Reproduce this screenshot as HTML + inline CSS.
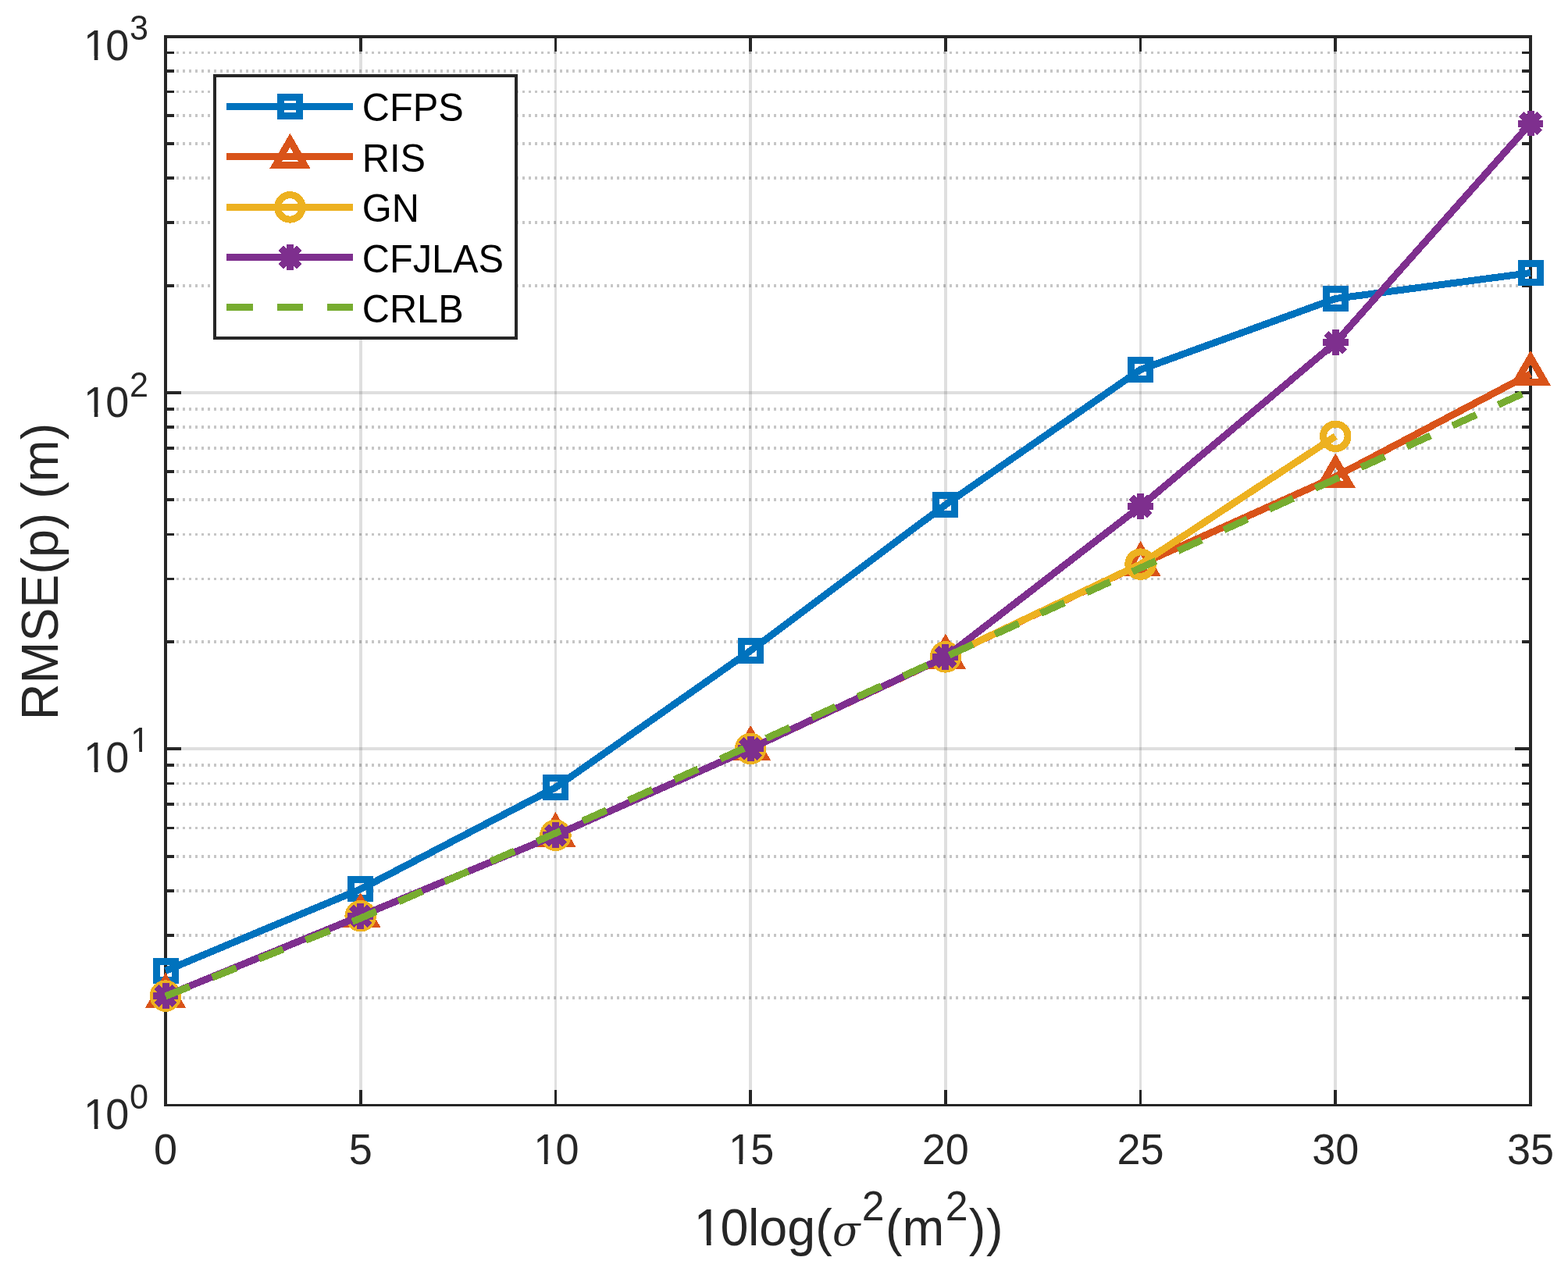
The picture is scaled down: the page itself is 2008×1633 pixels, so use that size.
<!DOCTYPE html>
<html lang="en"><head><meta charset="utf-8"><title>RMSE(p) versus noise level</title>
<style>html,body{margin:0;padding:0;background:#fff}body{width:2008px;height:1633px;overflow:hidden}svg{display:block}text{font-family:"Liberation Sans",Arial,Helvetica,sans-serif;fill:#262626}.leg text{fill:#000}.sig{font-family:"DejaVu Serif","Liberation Serif",serif;font-style:italic}</style>
</head><body>
<svg width="2008" height="1633" viewBox="0 0 2008 1633">
<rect x="0" y="0" width="2008" height="1633" fill="#fff"/>
<defs><clipPath id="c1t" clipPathUnits="userSpaceOnUse"><rect x="-3.00" y="-64.80" width="33.63" height="59.47"/><rect x="15.41" y="-5.43" width="4.67" height="6.43"/><rect x="30.63" y="-108.00" width="617.37" height="162.00"/></clipPath><clipPath id="c1s" clipPathUnits="userSpaceOnUse"><rect x="-3.00" y="-64.80" width="33.63" height="59.47"/><rect x="15.41" y="-5.43" width="4.67" height="6.43"/><rect x="30.63" y="-108.00" width="29.52" height="162.00"/><rect x="60.15" y="-108.00" width="43.70" height="78.58"/><rect x="72.99" y="-29.52" width="3.72" height="5.43"/></clipPath><clipPath id="c1l" clipPathUnits="userSpaceOnUse"><rect x="-3.00" y="-77.52" width="39.53" height="71.39"/><rect x="18.42" y="-6.23" width="5.61" height="7.23"/><rect x="36.53" y="-129.20" width="738.67" height="193.80"/></clipPath></defs>
<g id="grid" shape-rendering="crispEdges">
<rect x="460" y="49" width="4" height="1365" fill="#262626" fill-opacity="0.15"/>
<rect x="710" y="49" width="3" height="1365" fill="#262626" fill-opacity="0.15"/>
<rect x="959" y="49" width="4" height="1365" fill="#262626" fill-opacity="0.15"/>
<rect x="1209" y="49" width="4" height="1365" fill="#262626" fill-opacity="0.15"/>
<rect x="1459" y="49" width="3" height="1365" fill="#262626" fill-opacity="0.15"/>
<rect x="1708" y="49" width="4" height="1365" fill="#262626" fill-opacity="0.15"/>
<rect x="214" y="957" width="1744" height="4" fill="#262626" fill-opacity="0.15"/>
<rect x="214" y="501" width="1744" height="4" fill="#262626" fill-opacity="0.15"/>
<line x1="226" y1="1278.0" x2="1949" y2="1278.0" stroke="#1a1a1a" stroke-opacity="0.25" stroke-width="4" stroke-dasharray="3 5.0520"/>
<line x1="226" y1="1198.0" x2="1949" y2="1198.0" stroke="#1a1a1a" stroke-opacity="0.25" stroke-width="4" stroke-dasharray="3 5.0520"/>
<line x1="226" y1="1141.0" x2="1949" y2="1141.0" stroke="#1a1a1a" stroke-opacity="0.25" stroke-width="4" stroke-dasharray="3 5.0520"/>
<line x1="226" y1="1097.0" x2="1949" y2="1097.0" stroke="#1a1a1a" stroke-opacity="0.25" stroke-width="4" stroke-dasharray="3 5.0520"/>
<line x1="226" y1="1060.5" x2="1949" y2="1060.5" stroke="#1a1a1a" stroke-opacity="0.25" stroke-width="3" stroke-dasharray="3 5.0520"/>
<line x1="226" y1="1030.0" x2="1949" y2="1030.0" stroke="#1a1a1a" stroke-opacity="0.25" stroke-width="4" stroke-dasharray="3 5.0520"/>
<line x1="226" y1="1003.5" x2="1949" y2="1003.5" stroke="#1a1a1a" stroke-opacity="0.25" stroke-width="3" stroke-dasharray="3 5.0520"/>
<line x1="226" y1="980.0" x2="1949" y2="980.0" stroke="#1a1a1a" stroke-opacity="0.25" stroke-width="4" stroke-dasharray="3 5.0520"/>
<line x1="226" y1="822.0" x2="1949" y2="822.0" stroke="#1a1a1a" stroke-opacity="0.25" stroke-width="4" stroke-dasharray="3 5.0520"/>
<line x1="226" y1="741.5" x2="1949" y2="741.5" stroke="#1a1a1a" stroke-opacity="0.25" stroke-width="3" stroke-dasharray="3 5.0520"/>
<line x1="226" y1="684.5" x2="1949" y2="684.5" stroke="#1a1a1a" stroke-opacity="0.25" stroke-width="3" stroke-dasharray="3 5.0520"/>
<line x1="226" y1="640.0" x2="1949" y2="640.0" stroke="#1a1a1a" stroke-opacity="0.25" stroke-width="4" stroke-dasharray="3 5.0520"/>
<line x1="226" y1="604.0" x2="1949" y2="604.0" stroke="#1a1a1a" stroke-opacity="0.25" stroke-width="4" stroke-dasharray="3 5.0520"/>
<line x1="226" y1="574.0" x2="1949" y2="574.0" stroke="#1a1a1a" stroke-opacity="0.25" stroke-width="4" stroke-dasharray="3 5.0520"/>
<line x1="226" y1="547.0" x2="1949" y2="547.0" stroke="#1a1a1a" stroke-opacity="0.25" stroke-width="4" stroke-dasharray="3 5.0520"/>
<line x1="226" y1="524.0" x2="1949" y2="524.0" stroke="#1a1a1a" stroke-opacity="0.25" stroke-width="4" stroke-dasharray="3 5.0520"/>
<line x1="226" y1="366.0" x2="1949" y2="366.0" stroke="#1a1a1a" stroke-opacity="0.25" stroke-width="4" stroke-dasharray="3 5.0520"/>
<line x1="226" y1="285.0" x2="1949" y2="285.0" stroke="#1a1a1a" stroke-opacity="0.25" stroke-width="4" stroke-dasharray="3 5.0520"/>
<line x1="226" y1="228.0" x2="1949" y2="228.0" stroke="#1a1a1a" stroke-opacity="0.25" stroke-width="4" stroke-dasharray="3 5.0520"/>
<line x1="226" y1="184.0" x2="1949" y2="184.0" stroke="#1a1a1a" stroke-opacity="0.25" stroke-width="4" stroke-dasharray="3 5.0520"/>
<line x1="226" y1="148.0" x2="1949" y2="148.0" stroke="#1a1a1a" stroke-opacity="0.25" stroke-width="4" stroke-dasharray="3 5.0520"/>
<line x1="226" y1="117.5" x2="1949" y2="117.5" stroke="#1a1a1a" stroke-opacity="0.25" stroke-width="3" stroke-dasharray="3 5.0520"/>
<line x1="226" y1="91.0" x2="1949" y2="91.0" stroke="#1a1a1a" stroke-opacity="0.25" stroke-width="4" stroke-dasharray="3 5.0520"/>
<line x1="226" y1="67.5" x2="1949" y2="67.5" stroke="#1a1a1a" stroke-opacity="0.25" stroke-width="3" stroke-dasharray="3 5.0520"/>
</g>
<g id="axes" fill="#262626" shape-rendering="crispEdges">
<rect x="210" y="45" width="4" height="1372"/>
<rect x="1958" y="45" width="4" height="1372"/>
<rect x="210" y="45" width="1752" height="4"/>
<rect x="210" y="1414" width="1752" height="3"/>
<rect x="460" y="45" width="4" height="21"/>
<rect x="460" y="1396" width="4" height="21"/>
<rect x="710" y="45" width="3" height="21"/>
<rect x="710" y="1396" width="3" height="21"/>
<rect x="959" y="45" width="4" height="21"/>
<rect x="959" y="1396" width="4" height="21"/>
<rect x="1209" y="45" width="4" height="21"/>
<rect x="1209" y="1396" width="4" height="21"/>
<rect x="1459" y="45" width="3" height="21"/>
<rect x="1459" y="1396" width="3" height="21"/>
<rect x="1708" y="45" width="4" height="21"/>
<rect x="1708" y="1396" width="4" height="21"/>
<rect x="210" y="957" width="22" height="4"/>
<rect x="1940" y="957" width="22" height="4"/>
<rect x="210" y="501" width="22" height="4"/>
<rect x="1940" y="501" width="22" height="4"/>
<rect x="210" y="1276" width="13" height="4"/>
<rect x="1949" y="1276" width="13" height="4"/>
<rect x="210" y="1196" width="13" height="4"/>
<rect x="1949" y="1196" width="13" height="4"/>
<rect x="210" y="1139" width="13" height="4"/>
<rect x="1949" y="1139" width="13" height="4"/>
<rect x="210" y="1095" width="13" height="4"/>
<rect x="1949" y="1095" width="13" height="4"/>
<rect x="210" y="1059" width="13" height="3"/>
<rect x="1949" y="1059" width="13" height="3"/>
<rect x="210" y="1028" width="13" height="4"/>
<rect x="1949" y="1028" width="13" height="4"/>
<rect x="210" y="1002" width="13" height="3"/>
<rect x="1949" y="1002" width="13" height="3"/>
<rect x="210" y="978" width="13" height="4"/>
<rect x="1949" y="978" width="13" height="4"/>
<rect x="210" y="820" width="13" height="4"/>
<rect x="1949" y="820" width="13" height="4"/>
<rect x="210" y="740" width="13" height="3"/>
<rect x="1949" y="740" width="13" height="3"/>
<rect x="210" y="683" width="13" height="3"/>
<rect x="1949" y="683" width="13" height="3"/>
<rect x="210" y="638" width="13" height="4"/>
<rect x="1949" y="638" width="13" height="4"/>
<rect x="210" y="602" width="13" height="4"/>
<rect x="1949" y="602" width="13" height="4"/>
<rect x="210" y="572" width="13" height="4"/>
<rect x="1949" y="572" width="13" height="4"/>
<rect x="210" y="545" width="13" height="4"/>
<rect x="1949" y="545" width="13" height="4"/>
<rect x="210" y="522" width="13" height="4"/>
<rect x="1949" y="522" width="13" height="4"/>
<rect x="210" y="364" width="13" height="4"/>
<rect x="1949" y="364" width="13" height="4"/>
<rect x="210" y="283" width="13" height="4"/>
<rect x="1949" y="283" width="13" height="4"/>
<rect x="210" y="226" width="13" height="4"/>
<rect x="1949" y="226" width="13" height="4"/>
<rect x="210" y="182" width="13" height="4"/>
<rect x="1949" y="182" width="13" height="4"/>
<rect x="210" y="146" width="13" height="4"/>
<rect x="1949" y="146" width="13" height="4"/>
<rect x="210" y="116" width="13" height="3"/>
<rect x="1949" y="116" width="13" height="3"/>
<rect x="210" y="89" width="13" height="4"/>
<rect x="1949" y="89" width="13" height="4"/>
<rect x="210" y="66" width="13" height="3"/>
<rect x="1949" y="66" width="13" height="3"/>
</g>
<g id="data" fill="none" stroke-width="9.00" stroke-linejoin="round" stroke-linecap="butt" shape-rendering="crispEdges">
<g stroke="#0072BD">
<polyline points="212.00,1243.40 461.71,1138.90 711.43,1008.60 961.14,833.40 1210.86,646.40 1460.57,473.45 1710.29,382.50 1960.00,349.50"/>
<g stroke-linejoin="miter" stroke-miterlimit="10">
<rect x="200.00" y="1231.40" width="24.00" height="24.00"/>
<rect x="449.71" y="1126.90" width="24.00" height="24.00"/>
<rect x="699.43" y="996.60" width="24.00" height="24.00"/>
<rect x="949.14" y="821.40" width="24.00" height="24.00"/>
<rect x="1198.86" y="634.40" width="24.00" height="24.00"/>
<rect x="1448.57" y="461.45" width="24.00" height="24.00"/>
<rect x="1698.29" y="370.50" width="24.00" height="24.00"/>
<rect x="1948.00" y="337.50" width="24.00" height="24.00"/>
</g>
</g>
<g stroke="#D95319">
<polyline points="212.00,1275.60 461.71,1173.20 711.43,1069.80 961.14,958.90 1210.86,841.60 1460.57,722.80 1710.29,610.50 1960.00,478.80"/>
<g stroke-linejoin="miter" stroke-miterlimit="10">
<path d="M212.00 1254.63L230.16 1286.08L193.84 1286.08Z"/>
<path d="M461.71 1152.23L479.87 1183.68L443.55 1183.68Z"/>
<path d="M711.43 1048.83L729.59 1080.28L693.27 1080.28Z"/>
<path d="M961.14 937.93L979.30 969.38L942.98 969.38Z"/>
<path d="M1210.86 820.63L1229.02 852.09L1192.70 852.09Z"/>
<path d="M1460.57 701.83L1478.73 733.28L1442.41 733.28Z"/>
<path d="M1710.29 589.53L1728.45 620.99L1692.13 620.99Z"/>
<path d="M1960.00 457.83L1978.16 489.29L1941.84 489.29Z"/>
</g>
</g>
<g stroke="#EDB120">
<polyline points="212.00,1275.60 461.71,1173.20 711.43,1069.80 961.14,958.90 1210.86,841.40 1460.57,722.60 1710.29,558.75"/>
<g stroke-linejoin="miter" stroke-miterlimit="10">
<circle cx="212.00" cy="1275.60" r="15.75"/>
<circle cx="461.71" cy="1173.20" r="15.75"/>
<circle cx="711.43" cy="1069.80" r="15.75"/>
<circle cx="961.14" cy="958.90" r="15.75"/>
<circle cx="1210.86" cy="841.40" r="15.75"/>
<circle cx="1460.57" cy="722.60" r="15.75"/>
<circle cx="1710.29" cy="558.75" r="15.75"/>
</g>
</g>
<g stroke="#7E2F8E">
<polyline points="212.00,1275.60 461.71,1173.20 711.43,1069.80 961.14,958.90 1210.86,841.40 1460.57,648.60 1710.29,438.80 1960.00,158.00"/>
<g stroke-linejoin="miter" stroke-miterlimit="10">
<path d="M195.60 1275.60H228.40M212.00 1259.20V1292.00M200.40 1264.00L223.60 1287.20M200.40 1287.20L223.60 1264.00"/>
<path d="M445.31 1173.20H478.11M461.71 1156.80V1189.60M450.12 1161.60L473.31 1184.80M450.12 1184.80L473.31 1161.60"/>
<path d="M695.03 1069.80H727.83M711.43 1053.40V1086.20M699.83 1058.20L723.03 1081.40M699.83 1081.40L723.03 1058.20"/>
<path d="M944.74 958.90H977.54M961.14 942.50V975.30M949.55 947.30L972.74 970.50M949.55 970.50L972.74 947.30"/>
<path d="M1194.46 841.40H1227.26M1210.86 825.00V857.80M1199.26 829.80L1222.45 853.00M1199.26 853.00L1222.45 829.80"/>
<path d="M1444.17 648.60H1476.97M1460.57 632.20V665.00M1448.97 637.00L1472.17 660.20M1448.97 660.20L1472.17 637.00"/>
<path d="M1693.89 438.80H1726.69M1710.29 422.40V455.20M1698.69 427.20L1721.88 450.40M1698.69 450.40L1721.88 427.20"/>
<path d="M1943.60 158.00H1976.40M1960.00 141.60V174.40M1948.40 146.40L1971.60 169.60M1948.40 169.60L1971.60 146.40"/>
</g>
</g>
<g stroke="#77AC30">
<polyline points="212.00,1275.90 461.71,1176.10 711.43,1067.10 961.14,954.70 1210.86,841.30 1460.57,727.40 1710.29,613.50 1960.00,499.50" stroke-dasharray="33.3 31.1"/>
</g>
</g>
<g id="legend" class="leg">
<rect x="275" y="97" width="386" height="336" fill="#fff" stroke="#262626" stroke-width="4" shape-rendering="crispEdges"/>
<g fill="none" stroke-width="9.00" shape-rendering="crispEdges">
<g stroke="#0072BD">
<line x1="289.90" y1="136.45" x2="452.00" y2="136.45"/>
<g stroke-linejoin="miter" stroke-miterlimit="10"><rect x="359.40" y="124.45" width="24.00" height="24.00"/></g>
</g>
<g stroke="#D95319">
<line x1="289.90" y1="200.60" x2="452.00" y2="200.60"/>
<g stroke-linejoin="miter" stroke-miterlimit="10"><path d="M371.40 179.63L389.56 211.08L353.24 211.08Z"/></g>
</g>
<g stroke="#EDB120">
<line x1="289.90" y1="265.40" x2="452.00" y2="265.40"/>
<g stroke-linejoin="miter" stroke-miterlimit="10"><circle cx="371.40" cy="265.40" r="15.75"/></g>
</g>
<g stroke="#7E2F8E">
<line x1="289.90" y1="329.45" x2="452.00" y2="329.45"/>
<g stroke-linejoin="miter" stroke-miterlimit="10"><path d="M355.00 329.45H387.80M371.40 313.05V345.85M359.80 317.85L383.00 341.05M359.80 341.05L383.00 317.85"/></g>
</g>
<g stroke="#77AC30">
<line x1="289.90" y1="393.50" x2="452.00" y2="393.50" stroke-dasharray="33.6 31"/>
</g>
</g>
<text transform="translate(463.80 155.30) scale(1 1.040)" font-size="48.70">CFPS</text>
<text transform="translate(463.80 220.00) scale(1 1.040)" font-size="48.70">RIS</text>
<text transform="translate(463.80 284.30) scale(1 1.040)" font-size="48.70">GN</text>
<text transform="translate(463.80 349.00) scale(1 1.040)" font-size="48.70">CFJLAS</text>
<text transform="translate(463.80 413.10) scale(1 1.040)" font-size="48.70">CRLB</text>
</g>
<g id="xticks" font-size="54.00">
<text transform="translate(196.98 1490.80) scale(1 1.040)" x="0.00">0</text>
<text transform="translate(446.70 1490.80) scale(1 1.040)" x="0.00">5</text>
<text transform="translate(681.40 1490.80) scale(1 1.040)" x="1.78 30.03" clip-path="url(#c1t)">10</text>
<text transform="translate(931.11 1490.80) scale(1 1.040)" x="1.78 30.03" clip-path="url(#c1t)">15</text>
<text transform="translate(1180.82 1490.80) scale(1 1.040)" x="0.00 30.03">20</text>
<text transform="translate(1430.54 1490.80) scale(1 1.040)" x="0.00 30.03">25</text>
<text transform="translate(1680.25 1490.80) scale(1 1.040)" x="0.00 30.03">30</text>
<text transform="translate(1929.97 1490.80) scale(1 1.040)" x="0.00 30.03">35</text>
</g>
<g id="yticks" font-size="54.00">
<text transform="translate(105.30 1445.90) scale(1 1.040)" x="1.78 30.03" clip-path="url(#c1t)">10<tspan x="60.65" dy="-25.10" font-size="43.20">0</tspan></text>
<text transform="translate(105.30 989.00) scale(1 1.040)" x="1.78 30.03" clip-path="url(#c1s)">10<tspan x="62.07" dy="-25.10" font-size="43.20">1</tspan></text>
<text transform="translate(105.30 533.80) scale(1 1.040)" x="1.78 30.03" clip-path="url(#c1t)">10<tspan x="60.65" dy="-25.10" font-size="43.20">2</tspan></text>
<text transform="translate(105.30 77.20) scale(1 1.040)" x="1.78 30.03" clip-path="url(#c1t)">10<tspan x="60.65" dy="-25.10" font-size="43.20">3</tspan></text>
</g>
<text id="xlabel" transform="translate(886.50 1595.00) scale(1 1.020)" font-size="64.60" clip-path="url(#c1l)" x="2.13 35.93">10<tspan x="71.45">log(</tspan><tspan class="sig" x="179.50" font-size="52.2">σ</tspan><tspan x="217.30" dy="-31.47" font-size="51.80">2</tspan><tspan x="247.50" dy="31.47">(m</tspan><tspan x="324.30" dy="-31.47" font-size="51.80">2</tspan><tspan x="354.20 376.50" dy="31.47">))</tspan></text>
<text id="ylabel" transform="translate(74.1 732.0) rotate(-90) scale(1 1.020)" font-size="64.60" text-anchor="middle">RMSE(p) (m)</text>
</svg></body></html>
